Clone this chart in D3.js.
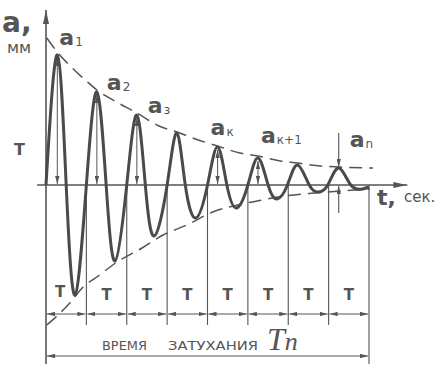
<!DOCTYPE html>

<head>
    <meta charset="utf-8" />
    <script src="https://d3js.org/d3.v7.min.js"></script>
    <style>
        body {
            margin: 0;
            background: #fff;
        }

        text {
            fill: #555;
            font-family: "DejaVu Sans", sans-serif;
        }
    </style>
</head>

<body>
    <script>
        var width = 443,
            height = 370;

        // точки кривой: время (в периодах T) и отклонение (мм)
        var curveT = [0, 0.28, 0.50, 0.72, 1.0, 1.26, 1.49, 1.71, 2.0, 2.25, 2.46, 2.68,
            3.0, 3.24, 3.45, 3.71, 4.0, 4.25, 4.48, 4.72, 5.0, 5.25, 5.5, 5.72,
            5.98, 6.23, 6.52, 6.75, 6.98, 7.25, 7.55, 7.84, 8.0];
        var curveA = [0, 130, 0, -110, 0, 93, 0, -76, 0, 70, 0, -51,
            0, 52, 0, -33, 0, 38, 0, -23, 0, 27, 0, -14,
            0, 20, 0, -7, 0, 17, 0, -4, -2];

        // огибающие (пунктир)
        var upperT = [0.02, 0.3, 0.6, 1.0, 1.26, 1.7, 2.25, 2.8, 3.24, 3.7, 4.25, 4.8, 5.25, 5.8, 6.23, 6.8, 7.25, 8.1];
        var upperA = [147, 132, 119, 104, 95, 84, 72, 59, 53, 46, 39, 32, 29, 24, 22, 19, 18, 17];
        var lowerT = [0.02, 0.59, 0.92, 1.26, 1.76, 2.38, 2.9, 3.49, 4.13, 4.75, 5.35, 5.92, 6.66, 7.3, 8.02];
        var lowerA = [-140, -118, -102, -92, -77, -63, -50, -40, -27, -20, -15, -11, -8, -6, -4];

        // амплитуды a1, a2, a3, ak, ak+1, an (индексы пиков в curveT)
        var peakIdx = [1, 5, 9, 17, 21, 29];
        var peakNames = ["1", "2", "з", "к", "к+1", "n"];

        // границы периодов
        var periods = d3.range(0, 9);
        var periodLabel = "Т";

        var ink = "#555";

        var svg = d3.select("body").append("svg")
            .attr("width", width)
            .attr("height", height);

        var x = d3.scaleLinear().domain([0, 8]).range([46, 369]);
        var y = d3.scaleLinear().domain([-150, 150]).range([335, 35]);

        var defs = svg.append("defs");
        function marker(id, len, half) {
            defs.append("marker")
                .attr("id", id)
                .attr("viewBox", "0 0 " + len + " " + (2 * half))
                .attr("refX", len).attr("refY", half)
                .attr("markerWidth", len).attr("markerHeight", 2 * half)
                .attr("markerUnits", "userSpaceOnUse")
                .attr("orient", "auto-start-reverse")
                .append("path")
                .attr("d", "M0,0L" + len + "," + half + "L0," + (2 * half) + "Z")
                .attr("fill", ink);
        }
        marker("axis", 14, 3);
        marker("small", 8, 2.2);

        function line(x1, y1, x2, y2, w) {
            return svg.append("line")
                .attr("x1", x1).attr("y1", y1)
                .attr("x2", x2).attr("y2", y2)
                .attr("stroke", ink)
                .attr("stroke-width", w || 1.2);
        }

        // оси
        line(x(0), y(-179), x(0), y(175), 1.6).attr("marker-end", "url(#axis)");
        line(x(-0.22), y(0), x(8.95), y(0), 1.6).attr("marker-end", "url(#axis)");

        // вертикали периодов
        periods.forEach(function (p) {
            if (p === 0) return;
            var bottom = p === 8 ? y(-179) : y(-140);
            line(x(p), y(0), x(p), bottom, 1.1);
        });

        // размерные линии T
        var dimY = 314;
        d3.pairs(periods).forEach(function (pr) {
            line(x(pr[0]) + 1, dimY, x(pr[1]) - 1, dimY, 1)
                .attr("marker-start", "url(#small)")
                .attr("marker-end", "url(#small)");
        });
        line(x(0) + 1, 356, x(8) - 1, 356, 1)
            .attr("marker-start", "url(#small)")
            .attr("marker-end", "url(#small)");

        // огибающие
        var envLine = d3.line()
            .x(function (d) { return x(d[0]); })
            .y(function (d) { return y(d[1]); })
            .curve(d3.curveMonotoneX);
        [[upperT, upperA], [lowerT, lowerA]].forEach(function (env) {
            svg.append("path")
                .attr("d", envLine(d3.zip(env[0], env[1])))
                .attr("fill", "none")
                .attr("stroke", ink)
                .attr("stroke-width", 1.5)
                .attr("stroke-dasharray", "13,7");
        });

        // стрелки амплитуд внутри пиков
        peakIdx.forEach(function (idx, i) {
            if (i === 5) return;
            var px = x(curveT[idx]);
            line(px, y(curveA[idx]) + 3, px, y(0) - 1, 1)
                .attr("marker-start", "url(#small)")
                .attr("marker-end", "url(#small)");
        });
        // an — выносные стрелки
        var an = peakIdx[5];
        line(x(curveT[an]), y(52), x(curveT[an]), y(curveA[an]) - 1, 1.1)
            .attr("marker-end", "url(#small)");
        line(x(curveT[an]), y(-28), x(curveT[an]), y(0) + 1, 1.1)
            .attr("marker-end", "url(#small)");

        // кривая затухающих колебаний
        var osc = d3.line()
            .x(function (d) { return x(d[0]); })
            .y(function (d) { return y(d[1]); })
            .curve(d3.curveNatural);
        svg.append("path")
            .attr("d", osc(d3.zip(curveT, curveA)))
            .attr("fill", "none")
            .attr("stroke", "#4a4a4a")
            .attr("stroke-width", 3)
            .attr("stroke-linejoin", "round");

        // подписи амплитуд
        var offs = [[2, -10], [10, -2], [11, -2], [-7, -12], [3, -15], [11, -21]];
        peakIdx.forEach(function (idx, i) {
            var t = svg.append("text")
                .attr("x", x(curveT[idx]) + offs[i][0])
                .attr("y", y(curveA[idx]) + offs[i][1])
                .style("font-weight", "bold")
                .style("font-size", "22px");
            t.append("tspan").text("a");
            t.append("tspan").attr("dx", 1).attr("dy", 1)
                .style("font-size", "12px").style("font-weight", "normal")
                .text(peakNames[i]);
        });

        // подписи осей
        svg.append("text").attr("x", 2).attr("y", 32)
            .style("font-weight", "bold").style("font-size", "28px").text("a,");
        svg.append("text").attr("x", 7).attr("y", 53)
            .style("font-size", "16px").text("мм");
        svg.append("text").attr("x", 14).attr("y", 155)
            .style("font-weight", "bold").style("font-size", "16px").text(periodLabel);
        svg.append("text").attr("x", 377).attr("y", 205)
            .style("font-weight", "bold").style("font-size", "22px").text("t,");
        svg.append("text").attr("x", 404).attr("y", 202)
            .style("font-size", "15px").text("сек.");

        // T в каждом периоде
        d3.pairs(periods).forEach(function (pr, i) {
            var cx = i === 0 ? x(0.35) : x((pr[0] + pr[1]) / 2);
            svg.append("text")
                .attr("x", cx).attr("y", i === 0 ? 297 : 300)
                .attr("text-anchor", "middle")
                .style("font-weight", "bold").style("font-size", "15px")
                .text(periodLabel);
        });

        // время затухания Tn
        svg.append("text").attr("x", 102).attr("y", 350)
            .attr("textLength", 45).attr("lengthAdjust", "spacingAndGlyphs")
            .style("font-size", "13px").text("ВРЕМЯ");
        svg.append("text").attr("x", 168).attr("y", 350)
            .attr("textLength", 90).attr("lengthAdjust", "spacingAndGlyphs")
            .style("font-size", "13px").text("ЗАТУХАНИЯ");
        var tn = svg.append("text").attr("x", 267).attr("y", 350)
            .style("font-family", "'Liberation Serif', serif")
            .style("font-style", "italic");
        tn.append("tspan").style("font-size", "32px").text("T");
        tn.append("tspan").style("font-size", "26px").text("n");
    </script>
</body>
